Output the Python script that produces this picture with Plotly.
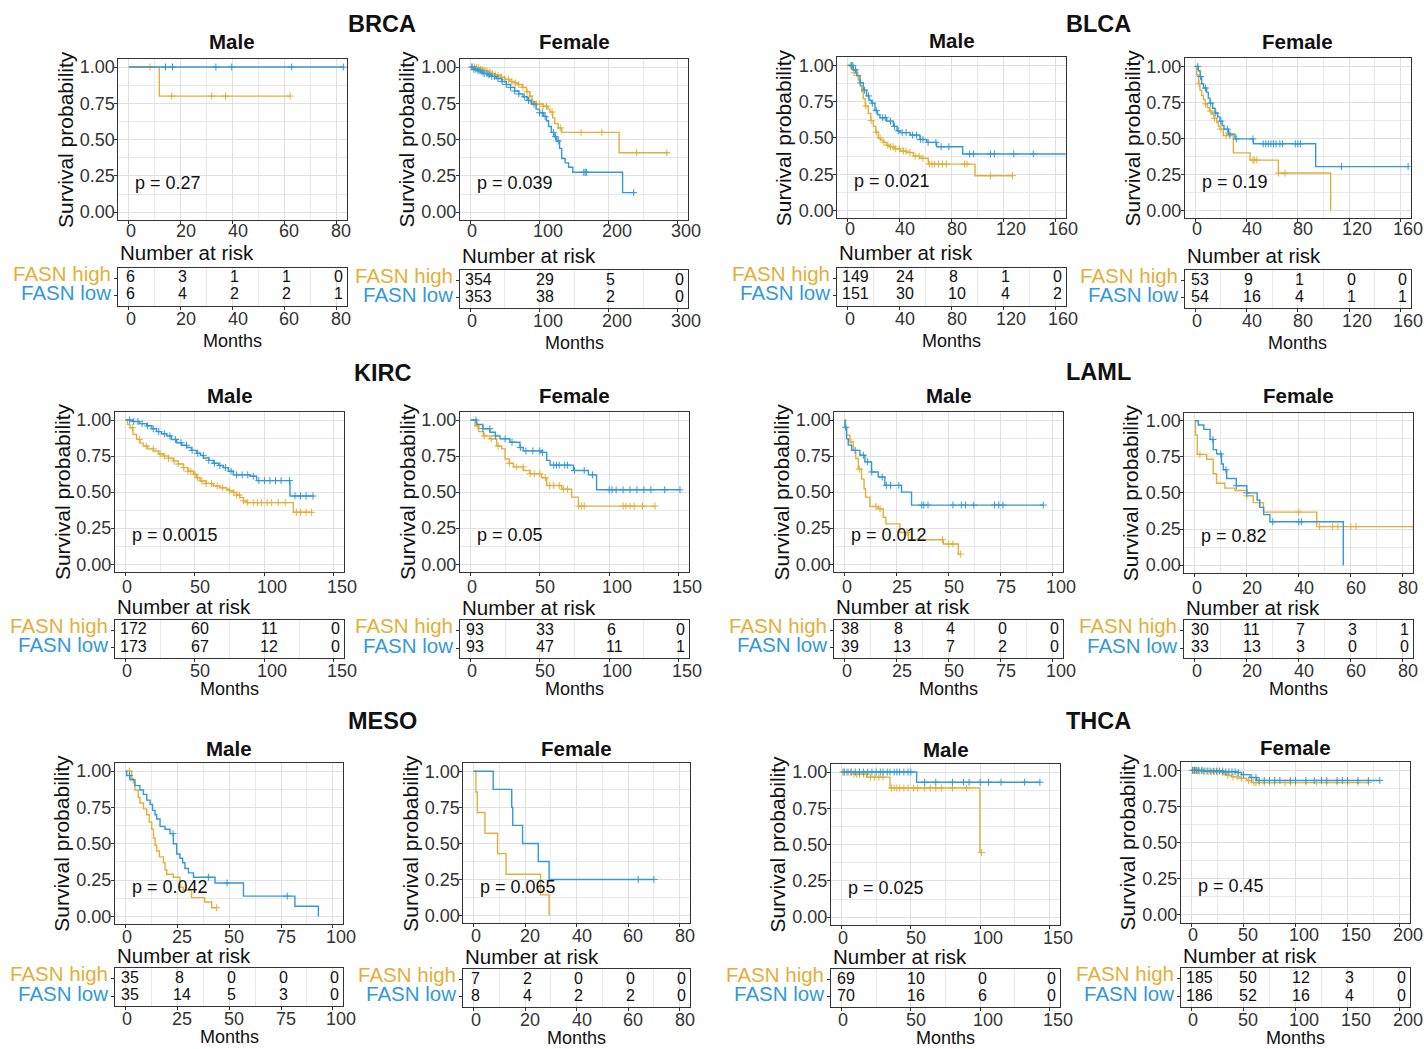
import plotly.graph_objects as go

FONT = "Liberation Sans, Arial, Helvetica, sans-serif"
C_HIGH = "#E2AF3A"
C_LOW = "#3399D8"
W, H = 1424, 1049

STRATA = ["FASN high", "FASN low"]

# ---------------- data ----------------
# BRCA
BRCA_M_breaks = [0, 20, 40, 60, 80]
BRCA_M_high_t = [0, 11.8, 62.2]
BRCA_M_high_s = [1, 0.8, 0.8]
BRCA_M_high_c = [8.2, 16.6, 32.0, 37.3, 62.2]
BRCA_M_low_t = [0, 83.0]
BRCA_M_low_s = [1, 1]
BRCA_M_low_c = [14.2, 16.9, 33.6, 39.7, 62.8, 82.7]
BRCA_M_risk_high = [6, 3, 1, 1, 0]
BRCA_M_risk_low = [6, 4, 2, 2, 1]
BRCA_M_p = "p = 0.27"

BRCA_F_breaks = [0, 100, 200, 300]
BRCA_F_high_t = [0, 8, 14, 19, 25, 30, 36, 43, 50, 57, 64, 69, 75, 81, 86, 89, 95, 105, 112, 115, 119, 122, 127, 132, 215, 286]
BRCA_F_high_s = [1, 0.995, 0.985, 0.975, 0.965, 0.955, 0.945, 0.93, 0.915, 0.9, 0.89, 0.88, 0.86, 0.83, 0.80, 0.76, 0.745, 0.73, 0.71, 0.69, 0.65, 0.61, 0.58, 0.55, 0.41, 0.41]
BRCA_F_high_c = [3, 6, 9, 12, 15, 18, 21, 24, 28, 32, 36, 40, 45, 50, 55, 60, 65, 70, 76, 82, 86, 90, 95, 100, 105, 110, 118, 130, 160, 190, 240, 284]
BRCA_F_low_t = [0, 5, 10, 15, 19, 25, 31, 38, 45, 52, 58, 64, 70, 76, 82, 88, 95, 100, 106, 110, 113, 117, 121, 125, 129, 132, 137, 142, 148, 220, 238]
BRCA_F_low_s = [1, 0.985, 0.975, 0.965, 0.955, 0.945, 0.935, 0.92, 0.9, 0.88, 0.86, 0.835, 0.815, 0.795, 0.77, 0.745, 0.71, 0.685, 0.66, 0.63, 0.59, 0.55, 0.52, 0.49, 0.44, 0.37, 0.34, 0.31, 0.275, 0.135, 0.135]
BRCA_F_low_c = [2, 5, 8, 11, 14, 17, 20, 24, 27, 31, 35, 40, 46, 52, 58, 64, 70, 78, 84, 92, 100, 104, 108, 120, 123, 127, 164, 166, 168, 236]
BRCA_F_risk_high = [354, 29, 5, 0]
BRCA_F_risk_low = [353, 38, 2, 0]
BRCA_F_p = "p = 0.039"

# BLCA
BLCA_M_breaks = [0, 40, 80, 120, 160]
BLCA_M_high_t = [0, 3.1, 5, 6.9, 8.2, 9.5, 10.8, 12.0, 13.5, 15.9, 17.8, 19.8, 21.7, 23.6, 25.5, 27.4, 30, 32.6, 36, 40.3, 45.4, 50.6, 55.6, 62.1, 98.1, 127.2]
BLCA_M_high_s = [1, 0.97, 0.95, 0.93, 0.9, 0.86, 0.82, 0.77, 0.72, 0.67, 0.62, 0.58, 0.54, 0.50, 0.485, 0.47, 0.45, 0.44, 0.425, 0.41, 0.40, 0.375, 0.36, 0.32, 0.24, 0.24]
BLCA_M_high_c = [2, 5, 8, 14, 18, 22, 25, 28, 31, 33, 35, 37, 40, 43, 45, 48, 52, 55, 58, 63, 65, 67, 70, 73, 76, 90, 92, 110, 127]
BLCA_M_low_t = [0, 4.3, 7, 9.5, 12, 14.6, 16.5, 18.5, 21, 23, 24.9, 30, 35.2, 38, 40.3, 48.1, 55.7, 60.9, 68.6, 88.6, 175]
BLCA_M_low_s = [1, 0.97, 0.93, 0.88, 0.83, 0.79, 0.76, 0.74, 0.69, 0.66, 0.64, 0.616, 0.58, 0.55, 0.537, 0.52, 0.49, 0.47, 0.44, 0.39, 0.39]
BLCA_M_low_c = [3, 4, 6, 10, 13, 16, 19, 22, 27, 29, 33, 36, 39, 42, 45, 50, 53, 56, 58, 62, 68, 72, 78, 94, 97, 110, 113, 128, 143]
BLCA_M_risk_high = [149, 24, 8, 1, 0]
BLCA_M_risk_low = [151, 30, 10, 4, 2]
BLCA_M_p = "p = 0.021"

BLCA_F_breaks = [0, 40, 80, 120, 160]
BLCA_F_high_t = [0, 1.1, 2.5, 3.7, 5, 6.3, 7.8, 9.4, 11, 12.8, 14.5, 16.7, 18, 19.3, 21.9, 29.7, 42.7, 64.8, 105.6]
BLCA_F_high_s = [1, 0.94, 0.88, 0.835, 0.8, 0.77, 0.74, 0.715, 0.69, 0.67, 0.64, 0.61, 0.585, 0.565, 0.52, 0.40, 0.35, 0.26, 0.0]
BLCA_F_high_c = [3, 8, 12, 15, 20, 24, 27, 45, 46, 48, 65, 70]
BLCA_F_low_t = [0, 2.4, 3.8, 5, 6.5, 8.9, 10.2, 11.5, 13.5, 15.4, 17.5, 19.3, 21, 22.4, 25.8, 31, 45.3, 93.9, 166.2]
BLCA_F_low_s = [1, 0.97, 0.93, 0.88, 0.85, 0.82, 0.78, 0.745, 0.71, 0.677, 0.65, 0.62, 0.59, 0.565, 0.53, 0.497, 0.463, 0.305, 0.305]
BLCA_F_low_c = [2, 4, 8, 12, 16, 20, 25, 27, 32, 45, 53, 55, 57, 59, 61, 63, 66, 68, 78, 80, 82, 114, 166]
BLCA_F_risk_high = [53, 9, 1, 0, 0]
BLCA_F_risk_low = [54, 16, 4, 1, 1]
BLCA_F_p = "p = 0.19"

# KIRC
KIRC_M_breaks = [0, 50, 100, 150]
KIRC_M_high_t = [0, 1.5, 3.3, 5.5, 8.1, 10.5, 12.9, 16, 20.1, 24, 27.3, 31, 34.5, 38, 41.7, 45, 48.9, 51, 53.7, 58, 63.2, 68, 72.8, 75, 77.6, 80, 82.4, 85, 87.2, 120.8, 134]
KIRC_M_high_s = [1, 0.97, 0.947, 0.9, 0.866, 0.84, 0.82, 0.8, 0.785, 0.765, 0.75, 0.735, 0.717, 0.695, 0.67, 0.645, 0.624, 0.60, 0.577, 0.56, 0.543, 0.53, 0.52, 0.51, 0.497, 0.48, 0.462, 0.44, 0.427, 0.36, 0.36]
KIRC_M_high_c = [5, 10, 15, 20, 25, 28, 31, 35, 38, 42, 45, 47, 50, 52, 55, 58, 62, 66, 70, 75, 78, 80, 82, 85, 88, 92, 95, 98, 102, 105, 110, 115, 123, 126, 130, 134]
KIRC_M_low_t = [0, 5.7, 10, 15.3, 19, 22.5, 26, 29.7, 33, 36.9, 40.5, 44.1, 47.5, 51.3, 54, 56.1, 60, 63.2, 67, 70.4, 74, 77.6, 89.6, 94.4, 118.4, 135.2]
KIRC_M_low_s = [1, 0.99, 0.975, 0.96, 0.94, 0.92, 0.905, 0.89, 0.865, 0.843, 0.825, 0.81, 0.79, 0.77, 0.755, 0.737, 0.72, 0.70, 0.685, 0.67, 0.645, 0.62, 0.61, 0.58, 0.473, 0.473]
KIRC_M_low_c = [3, 6, 9, 12, 16, 20, 24, 28, 32, 36, 40, 44, 48, 52, 56, 60, 64, 68, 72, 76, 80, 84, 88, 92, 96, 100, 104, 108, 112, 118, 122, 126, 130, 135]
KIRC_M_risk_high = [172, 60, 11, 0]
KIRC_M_risk_low = [173, 67, 12, 0]
KIRC_M_p = "p = 0.0015"

KIRC_F_breaks = [0, 50, 100, 150]
KIRC_F_high_t = [0, 3.3, 6, 9.3, 14.1, 18.9, 22.5, 25, 28, 30.9, 38.1, 42.9, 51.3, 55, 65.8, 73, 77.8, 133]
KIRC_F_high_s = [1, 0.96, 0.92, 0.89, 0.87, 0.82, 0.80, 0.73, 0.70, 0.675, 0.65, 0.627, 0.60, 0.546, 0.52, 0.465, 0.403, 0.403]
KIRC_F_high_c = [5, 10, 15, 20, 28, 33, 38, 43, 46, 50, 54, 57, 60, 64, 67, 70, 78, 80, 82, 110, 112, 115, 118, 124, 133]
KIRC_F_low_t = [0, 4.5, 9, 14.1, 18, 21.3, 28.5, 35.7, 38.1, 51.3, 55, 57.4, 74.2, 85, 90.9, 151]
KIRC_F_low_s = [1, 0.97, 0.94, 0.915, 0.89, 0.87, 0.846, 0.81, 0.786, 0.776, 0.72, 0.687, 0.65, 0.62, 0.516, 0.516]
KIRC_F_low_c = [4, 9, 14, 18, 25, 30, 36, 40, 45, 50, 52, 60, 62, 64, 68, 70, 75, 82, 88, 100, 102, 105, 110, 115, 120, 125, 130, 140, 151]
KIRC_F_risk_high = [93, 33, 6, 0]
KIRC_F_risk_low = [93, 47, 11, 1]
KIRC_F_p = "p = 0.05"

# LAML
LAML_M_breaks = [0, 25, 50, 75, 100]
LAML_M_high_t = [0, 0.4, 0.9, 2.5, 4.1, 5.3, 6.5, 8.1, 9.3, 10, 12.1, 16.1, 18.5, 19.8, 26.5, 30.6, 47.4, 54.6, 55.7]
LAML_M_high_s = [1, 0.94, 0.895, 0.85, 0.79, 0.733, 0.66, 0.59, 0.523, 0.465, 0.40, 0.384, 0.326, 0.28, 0.22, 0.17, 0.14, 0.07, 0.07]
LAML_M_high_c = [3, 7, 15, 17, 30, 47, 50, 52, 55.7]
LAML_M_low_t = [0, 0.1, 0.9, 1.7, 3.3, 7.3, 9.7, 12.9, 16.1, 19.3, 27.3, 32.1, 95.4]
LAML_M_low_s = [1, 0.95, 0.87, 0.826, 0.79, 0.756, 0.71, 0.64, 0.605, 0.547, 0.5, 0.41, 0.41]
LAML_M_low_c = [0.5, 5, 9, 11, 13, 18, 20, 22, 26, 37, 38, 40, 52, 56, 58, 62, 72, 74, 76, 95.4]
LAML_M_risk_high = [38, 8, 4, 0, 0]
LAML_M_risk_low = [39, 13, 7, 2, 0]
LAML_M_p = "p = 0.012"

LAML_F_breaks = [0, 20, 40, 60, 80]
LAML_F_high_t = [0, 0.3, 1, 4.6, 7.1, 8.4, 11.6, 15.5, 20, 22.5, 26.4, 46.9, 84]
LAML_F_high_s = [1, 0.9, 0.767, 0.733, 0.633, 0.567, 0.533, 0.517, 0.48, 0.433, 0.367, 0.267, 0.267]
LAML_F_high_c = [2, 20, 25, 40, 48, 53, 55, 60, 62, 84]
LAML_F_low_t = [0, 1.4, 3.5, 5.9, 7.1, 8.4, 10.3, 11, 12.3, 16, 20, 24, 25, 26.5, 28.9, 57.1]
LAML_F_low_s = [1, 0.97, 0.94, 0.87, 0.80, 0.77, 0.70, 0.66, 0.60, 0.55, 0.50, 0.45, 0.40, 0.35, 0.30, 0.0]
LAML_F_low_c = [7, 10, 12, 16, 20, 30, 40, 41]
LAML_F_risk_high = [30, 11, 7, 3, 1]
LAML_F_risk_low = [33, 13, 3, 0, 0]
LAML_F_p = "p = 0.82"

# MESO
MESO_M_breaks = [0, 25, 50, 75, 100]
MESO_M_high_t = [0, 3, 3.8, 4.6, 6.2, 7, 8.7, 10.3, 11.5, 12.7, 13.5, 14.3, 15.1, 16.4, 18.3, 19.1, 19.9, 23.1, 26.3, 27.9, 31.9, 38.2, 41.6, 44]
MESO_M_high_s = [1, 0.95, 0.92, 0.87, 0.82, 0.78, 0.74, 0.70, 0.65, 0.60, 0.54, 0.49, 0.45, 0.41, 0.37, 0.32, 0.29, 0.27, 0.20, 0.18, 0.13, 0.10, 0.06, 0.06]
MESO_M_high_c = [2, 44]
MESO_M_low_t = [0, 0.6, 2.2, 4.6, 7, 8.7, 10.3, 11.9, 13.1, 14.3, 15.1, 16.7, 19.1, 21.5, 23.1, 24.7, 26.3, 27.6, 28.7, 30.4, 32.8, 43.2, 56.9, 81.7, 93]
MESO_M_low_s = [1, 0.97, 0.94, 0.90, 0.87, 0.84, 0.80, 0.77, 0.73, 0.70, 0.67, 0.62, 0.60, 0.57, 0.50, 0.43, 0.40, 0.37, 0.33, 0.30, 0.27, 0.23, 0.14, 0.07, 0.0]
MESO_M_low_c = [2, 23, 40, 49, 78]
MESO_M_risk_high = [35, 8, 0, 0, 0]
MESO_M_risk_low = [35, 14, 5, 3, 0]
MESO_M_p = "p = 0.042"

MESO_F_breaks = [0, 20, 40, 60, 80]
MESO_F_high_t = [0, 0.9, 1.4, 4.4, 9.3, 12.6, 26, 29.3]
MESO_F_high_s = [1, 0.857, 0.714, 0.571, 0.429, 0.286, 0.143, 0.0]
MESO_F_high_c = []
MESO_F_low_t = [0, 7.6, 14.8, 15.2, 19, 25.1, 29.3, 70]
MESO_F_low_s = [1, 0.875, 0.75, 0.625, 0.5, 0.375, 0.25, 0.25]
MESO_F_low_c = [63.9, 70]
MESO_F_risk_high = [7, 2, 0, 0, 0]
MESO_F_risk_low = [8, 4, 2, 2, 0]
MESO_F_p = "p = 0.065"

# THCA
THCA_M_breaks = [0, 50, 100, 150]
THCA_M_high_t = [0, 8.6, 18.2, 35, 99.8, 101]
THCA_M_high_s = [1, 0.985, 0.965, 0.89, 0.445, 0.445]
THCA_M_high_c = [1, 2, 5, 7, 9, 11, 13, 16, 18, 21, 24, 27, 30, 36, 38, 40, 42, 45, 48, 52, 55, 60, 64, 68, 72, 80, 90, 101]
THCA_M_low_t = [0, 54.2, 143]
THCA_M_low_s = [1, 0.93, 0.93]
THCA_M_low_c = [2, 4, 7, 10, 13, 16, 19, 22, 25, 28, 30, 33, 35, 38, 40, 42, 45, 48, 50, 60, 68, 80, 88, 92, 100, 106, 115, 132, 143]
THCA_M_risk_high = [69, 10, 0, 0]
THCA_M_risk_low = [70, 16, 6, 0]
THCA_M_p = "p = 0.025"

THCA_F_breaks = [0, 50, 100, 150, 200]
THCA_F_high_t = [0, 5, 17.9, 25.9, 30.7, 33.9, 38.7, 46.7, 53.1, 58, 170]
THCA_F_high_s = [1, 0.995, 0.99, 0.985, 0.975, 0.965, 0.955, 0.945, 0.93, 0.915, 0.915]
THCA_F_high_c = [2, 4, 6, 8, 10, 13, 16, 19, 22, 25, 30, 35, 40, 44, 48, 55, 60, 62, 65, 70, 75, 80, 90, 95, 100, 110, 120, 130, 140, 150, 160, 170]
THCA_F_low_t = [0, 11.5, 30.7, 43.5, 48.2, 56.3, 62.7, 181]
THCA_F_low_s = [1, 0.995, 0.99, 0.985, 0.97, 0.95, 0.93, 0.93]
THCA_F_low_c = [1, 3, 5, 7, 10, 12, 15, 18, 21, 24, 27, 30, 33, 36, 39, 42, 45, 50, 58, 62, 65, 70, 75, 80, 85, 95, 100, 110, 118, 125, 130, 140, 145, 150, 160, 170, 181]
THCA_F_risk_high = [185, 50, 12, 3, 0]
THCA_F_risk_low = [186, 52, 16, 4, 0]
THCA_F_p = "p = 0.45"

CANCERS = ["BRCA", "BLCA", "KIRC", "LAML", "MESO", "THCA"]

G = globals()
PANELS = []
for cancer in CANCERS:
    for sx, sexname in (("M", "Male"), ("F", "Female")):
        k = f"{cancer}_{sx}_"
        PANELS.append(dict(
            cancer=cancer, sex=sexname, breaks=G[k + "breaks"],
            curves=[(G[k + "high_t"], G[k + "high_s"], G[k + "high_c"], C_HIGH),
                    (G[k + "low_t"], G[k + "low_s"], G[k + "low_c"], C_LOW)],
            risk=[G[k + "risk_high"], G[k + "risk_low"]], p=G[k + "p"]))

# ---------------- layout geometry (pixels) ----------------
# (left, right, top, bottom, table_top, table_bottom)
GEOM = [
    (118.3, 346.7, 57.3, 219.0, 266.7, 305.0),
    (460.0, 688.3, 57.3, 219.0, 269.3, 307.3),
    (837.3, 1065.7, 55.7, 217.3, 266.7, 305.0),
    (1185.0, 1410.7, 56.7, 217.3, 269.3, 307.3),
    (115.0, 344.3, 411.7, 572.3, 620.0, 659.0),
    (460.0, 689.0, 411.7, 572.3, 620.7, 659.0),
    (834.3, 1063.3, 411.7, 572.3, 620.0, 659.0),
    (1184.3, 1413.3, 412.3, 573.3, 620.7, 659.0),
    (115.0, 343.3, 764.0, 926.0, 970.0, 1008.3),
    (463.3, 690.0, 764.3, 925.0, 971.0, 1009.0),
    (831.0, 1060.0, 765.0, 926.7, 971.0, 1009.0),
    (1181.0, 1410.0, 763.3, 924.3, 970.0, 1009.0),
]
CANCER_POS = [(382, 22), (1098, 22), (382, 372), (1098, 371), (382, 722), (1098, 722)]
MONTHS_OFF = [35, 30.5, 30.5]
XLAB_OFF = [10.5, 15.0, 12.5]
TITLE_OFF = [17.5, 17.0, 14.5]
NRISK_OFF = [15.0, 13.0, 13.0]


def fx(px):
    return px / W


def fy(py):
    return 1 - py / H


def step_at(t, s, c):
    v = s[0]
    for ti, si in zip(t, s):
        if ti <= c:
            v = si
        else:
            break
    return v


def ax_name(kind, n):
    return kind + "axis" if n == 1 else f"{kind}axis{n}"


def ax_ref(kind, n):
    return kind if n == 1 else f"{kind}{n}"


def text_shift(s):
    # the labels of the original sit slightly right of their break, more so for wider labels
    return 3 * len(s) - 1


TICKFONT = dict(family=FONT, size=18, color="#333333")
GRID = "#E0E0E0"
MINOR_GRID = "#E9E9E9"
LINEC = "#333333"

fig = go.Figure()
layout = {}
annotations = []


def ann(x, y, text, size, color="#111111", bold=False, xanchor="center", yanchor="middle", angle=0):
    annotations.append(dict(
        x=fx(x), y=fy(y), xref="paper", yref="paper", text=f"<b>{text}</b>" if bold else text,
        showarrow=False, xanchor=xanchor, yanchor=yanchor, textangle=angle,
        font=dict(family=FONT, size=size, color=color)))


for i, p in enumerate(PANELS):
    L, R, T, B, TT, TB = GEOM[i]
    row = i // 4
    n1, n2 = 2 * i + 1, 2 * i + 2
    br = p["breaks"]
    M = br[-1]
    d = br[1] - br[0]
    xr = [-0.05 * M, 1.05 * M]
    common_x = dict(range=xr, tick0=0, dtick=d, showline=True, mirror=True, linecolor=LINEC,
                    linewidth=1, ticks="outside", ticklen=3, tickcolor=LINEC, showticklabels=False,
                    showgrid=True, gridcolor=GRID, gridwidth=1, zeroline=False, fixedrange=True,
                    minor=dict(tick0=0, dtick=d / 2, showgrid=True, gridcolor=MINOR_GRID, gridwidth=1, ticks=""))
    layout[ax_name("x", n1)] = dict(domain=[fx(L), fx(R)], anchor=ax_ref("y", n1), **common_x)
    layout[ax_name("y", n1)] = dict(
        domain=[fy(B), fy(T)], anchor=ax_ref("x", n1), range=[-0.055, 1.055], tick0=0, dtick=0.25,
        tickformat=".2f", showline=True, mirror=True, linecolor=LINEC, linewidth=1, ticks="outside",
        ticklen=3, tickcolor=LINEC, tickfont=TICKFONT, showgrid=True, gridcolor=GRID, gridwidth=1,
        zeroline=False, fixedrange=True, ticklabelstandoff=-4,
        minor=dict(tick0=0, dtick=0.125, showgrid=True, gridcolor=MINOR_GRID, gridwidth=1, ticks=""))
    layout[ax_name("x", n2)] = dict(domain=[fx(L), fx(R)], anchor=ax_ref("y", n2), **common_x)
    layout[ax_name("y", n2)] = dict(
        domain=[fy(TB), fy(TT)], anchor=ax_ref("x", n2), range=[0.4, 2.6], tickvals=[1, 2],
        ticktext=["", ""], showline=True, mirror=True, linecolor=LINEC, linewidth=1, ticks="outside",
        ticklen=3, tickcolor=LINEC, showgrid=False, zeroline=False, fixedrange=True)

    for (t, s, cens, col) in p["curves"]:
        fig.add_trace(go.Scatter(x=t, y=s, mode="lines", line=dict(color=col, width=1.4, shape="hv"),
                                 xaxis=ax_ref("x", n1), yaxis=ax_ref("y", n1), showlegend=False,
                                 hoverinfo="skip"))
        if cens:
            fig.add_trace(go.Scatter(x=cens, y=[step_at(t, s, c) for c in cens], mode="markers",
                                     marker=dict(symbol="cross-thin", size=5, line=dict(color=col, width=1)),
                                     xaxis=ax_ref("x", n1), yaxis=ax_ref("y", n1), showlegend=False,
                                     hoverinfo="skip"))

    # x tick labels (plot and table), placed on the axes' own data scale
    for bx in br:
        lab = str(bx)
        for n, ypx in ((n1, B + XLAB_OFF[row]), (n2, TB + 13)):
            annotations.append(dict(x=bx, y=fy(ypx), xref=ax_ref("x", n), yref="paper", text=lab,
                                    showarrow=False, xanchor="center", yanchor="middle",
                                    xshift=text_shift(lab), font=TICKFONT))

    # p-value
    annotations.append(dict(x=M * 0.022, y=0.2, xref=ax_ref("x", n1), yref=ax_ref("y", n1), text=p["p"],
                            showarrow=False, xanchor="left", yanchor="middle",
                            font=dict(family=FONT, size=18, color="#111111")))
    # risk numbers
    for rrow, yv in ((0, 2), (1, 1)):
        vals = p["risk"][rrow]
        for bx, v in zip(br, vals):
            lab = str(v)
            annotations.append(dict(x=bx, y=yv, xref=ax_ref("x", n2), yref=ax_ref("y", n2), text=lab,
                                    showarrow=False, xanchor="center", yanchor="middle", yshift=1.5,
                                    xshift=text_shift(lab), font=dict(family=FONT, size=16, color="#111111")))
    cx = (L + R) / 2
    ann(cx, T - TITLE_OFF[row], p["sex"], 20.5, bold=True)
    ann(L - 53, (T + B) / 2, "Survival probability", 21, angle=-90)
    ann(L, TT - NRISK_OFF[row], "Number at risk", 20.5, xanchor="left")
    rh = TB - TT
    ann(L - 5, TT + rh * (0.6 / 2.2) - 5, STRATA[0], 20.5, color=C_HIGH, xanchor="right")
    ann(L - 5, TT + rh * (1.6 / 2.2) - 3, STRATA[1], 20.5, color=C_LOW, xanchor="right")
    ann(cx, TB + MONTHS_OFF[row], "Months", 18)

for name, (x, y) in zip(CANCERS, CANCER_POS):
    ann(x, y, name, 23.5, bold=True)

fig.update_layout(
    width=W, height=H, margin=dict(l=0, r=0, t=0, b=0), paper_bgcolor="white", plot_bgcolor="white",
    annotations=annotations, showlegend=False, **layout)

fig.write_html("out.html", config={"displayModeBar": False},
               post_script="document.body.style.margin='0';document.body.style.overflow='hidden';")
